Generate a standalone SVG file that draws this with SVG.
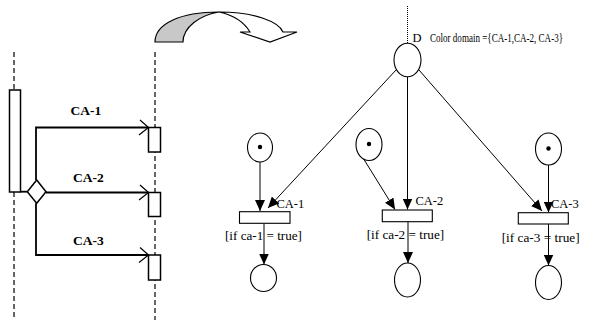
<svg xmlns="http://www.w3.org/2000/svg" width="607" height="320" viewBox="0 0 607 320">
  <style>
    .life { fill: none; stroke: #000; stroke-width: 1.2; stroke-dasharray: 5 3; }
    .box { fill: #fff; stroke: #000; stroke-width: 1.5; }
    .msg { fill: none; stroke: #000; stroke-width: 1.8; }
    .chev { fill: none; stroke: #000; stroke-width: 1.2; }
    .place { fill: #fff; stroke: #000; stroke-width: 1.1; }
    .trans { fill: #fff; stroke: #000; stroke-width: 1.1; }
    .arc { fill: none; stroke: #000; stroke-width: 1; marker-end: url(#ah); }
    .lbl { font-family: "Liberation Serif", "Times New Roman", serif; font-size: 13.5px; font-weight: bold; fill: #000; }
    .pn { font-family: "Liberation Serif", "Times New Roman", serif; font-size: 12.5px; fill: #000; }
    .dom { font-family: "Liberation Serif", "Times New Roman", serif; font-size: 11.5px; fill: #000; }
    .guard { font-family: "Liberation Serif", "Times New Roman", serif; font-size: 13px; fill: #000; }
  </style>
  <defs>
    <marker id="ah" markerUnits="userSpaceOnUse" markerWidth="12" markerHeight="10" refX="11" refY="5" orient="auto">
      <path d="M0,0 L11,5 L0,10 Z" fill="#000"/>
    </marker>
  </defs>

  <!-- sequence diagram: lifelines and activations -->
  <g id="lifeline-left">
    <line class="life" x1="14" y1="52" x2="14" y2="90"/>
    <line class="life" x1="14" y1="192" x2="14" y2="320"/>
    <rect class="box" x="9.5" y="90" width="11" height="102"/>
  </g>
  <g id="lifeline-right">
    <line class="life" x1="155" y1="52" x2="155" y2="320"/>
    <rect class="box" x="148.5" y="127.5" width="12" height="24.5"/>
    <rect class="box" x="148.5" y="192.5" width="12" height="24"/>
    <rect class="box" x="148.5" y="255" width="12" height="25"/>
  </g>
  <g id="branch">
    <path class="box" d="M36.7,180 L46,191.7 L36.7,203.3 L27.3,191.7 Z"/>
  </g>

  <g id="messages">
    <line class="msg" x1="20.5" y1="191.7" x2="27.3" y2="191.7"/>
    <polyline class="msg" points="36,180 36,127.5 148.5,127.5"/>
    <line class="msg" x1="46" y1="192.5" x2="148.5" y2="192.5"/>
    <polyline class="msg" points="36,203.3 36,255 148.5,255"/>
    <path class="chev" d="M140,120 L148.5,127.5 L139,135"/>
    <path class="chev" d="M140,185 L148.5,192.5 L139,200"/>
    <path class="chev" d="M140,247.5 L148.5,255 L139,262.5"/>
  </g>
  <text class="lbl" x="70.5" y="115">CA-1</text>
  <text class="lbl" x="73" y="181.5">CA-2</text>
  <text class="lbl" x="73" y="245">CA-3</text>

  <!-- curved transformation arrow -->
  <g id="curved-arrow">
    <path d="M155,42 C155,24 180,12 219,12 C200,15 183,27 183,42 Z" fill="#c8c8c8" stroke="#000" stroke-width="1.2"/>
    <path d="M219,12 C255,12 279,22 283,32 L297,32 L270,42 L240,32 L250,32 C244,22 233,15 219,12 Z" fill="#fff" stroke="#000" stroke-width="1.2"/>
  </g>

  <!-- coloured Petri net -->
  <g id="connectors">
    <line x1="407.5" y1="6" x2="407.5" y2="43.3" stroke="#000" stroke-width="1" stroke-dasharray="1 1"/>
    <line class="arc" x1="396" y1="70" x2="268" y2="208"/>
    <line class="arc" x1="407.5" y1="76.7" x2="407.5" y2="209.5"/>
    <line class="arc" x1="419" y1="70" x2="542" y2="211"/>
    <line class="arc" x1="260" y1="162" x2="260" y2="211"/>
    <line class="arc" x1="364" y1="159.5" x2="395" y2="209.5"/>
    <line class="arc" x1="548.5" y1="165" x2="548.5" y2="212.5"/>
    <line class="arc" x1="264" y1="223.3" x2="264" y2="264.5"/>
    <line class="arc" x1="408" y1="221.7" x2="408" y2="263"/>
    <line class="arc" x1="548.5" y1="224" x2="548.5" y2="265.5"/>
  </g>

  <g id="place-D">
    <ellipse class="place" cx="407.5" cy="60" rx="13.5" ry="16.7"/>
    <text class="pn" x="412.5" y="42">D</text>
    <text class="dom" x="430" y="42" textLength="133" lengthAdjust="spacingAndGlyphs">Color domain ={CA-1,CA-2, CA-3}</text>
  </g>

  <g id="place-in-1">
    <ellipse class="place" cx="260" cy="147.5" rx="12.5" ry="14.5"/>
    <circle cx="260" cy="147" r="2.2" fill="#000"/>
  </g>
  <g id="place-in-2">
    <ellipse class="place" cx="369" cy="144.5" rx="13" ry="16"/>
    <circle cx="369" cy="144" r="2.2" fill="#000"/>
  </g>
  <g id="place-in-3">
    <ellipse class="place" cx="548.5" cy="149" rx="13" ry="16"/>
    <circle cx="548.5" cy="148.5" r="2.2" fill="#000"/>
  </g>

  <g id="trans-1">
    <rect class="trans" x="239.5" y="211.7" width="50.5" height="11.6"/>
    <text class="pn" x="276.5" y="208">CA-1</text>
    <text class="guard" x="225" y="240" textLength="77" lengthAdjust="spacingAndGlyphs">[if ca-1 = true]</text>
  </g>
  <g id="trans-2">
    <rect class="trans" x="382.3" y="210" width="50" height="11.7"/>
    <text class="pn" x="415.5" y="205">CA-2</text>
    <text class="guard" x="366.7" y="239" textLength="77.5" lengthAdjust="spacingAndGlyphs">[if ca-2 = true]</text>
  </g>
  <g id="trans-3">
    <rect class="trans" x="518.3" y="212.7" width="50" height="11.3"/>
    <text class="pn" x="551" y="208">CA-3</text>
    <text class="guard" x="501.7" y="241.5" textLength="78" lengthAdjust="spacingAndGlyphs">[if ca-3 = true]</text>
  </g>

  <g id="place-out-1">
    <ellipse class="place" cx="263.5" cy="278" rx="13" ry="13.5"/>
  </g>
  <g id="place-out-2">
    <ellipse class="place" cx="407.5" cy="280" rx="13" ry="17"/>
  </g>
  <g id="place-out-3">
    <ellipse class="place" cx="548.5" cy="282.5" rx="13" ry="17"/>
  </g>
</svg>
